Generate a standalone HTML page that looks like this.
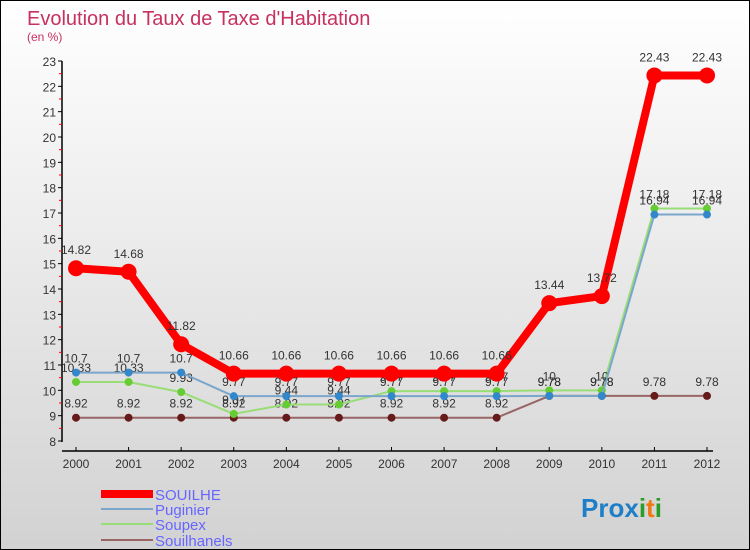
<!DOCTYPE html>
<html><head><meta charset="utf-8"><style>
body{margin:0}
#c{width:750px;height:550px;position:relative;box-sizing:border-box;border:1px solid #000;background:linear-gradient(#fff,#d2d2d2);font-family:"Liberation Sans",sans-serif;overflow:hidden}
svg{position:absolute;left:0;top:0}
</style></head><body>
<div id="c">
<svg id="s" width="750" height="550">
<text x="26" y="24" font-size="20" fill="#c8305f">Evolution du Taux de Taxe d'Habitation</text>
<text x="26" y="40" font-size="12" fill="#c8305f">(en %)</text>
<line x1="61" y1="60" x2="61" y2="441" stroke="#000" stroke-width="1.5"/>
<line x1="61" y1="450" x2="712" y2="450" stroke="#000" stroke-width="1.5"/>
<g id="g"></g>
<g>
<rect x="100" y="489" width="52" height="8" fill="#f00"/>
<line x1="100" y1="508" x2="152" y2="508" stroke="#7aa6cc" stroke-width="2"/>
<line x1="100" y1="523" x2="152" y2="523" stroke="#99dd77" stroke-width="2"/>
<line x1="100" y1="539" x2="152" y2="539" stroke="#996666" stroke-width="2"/>
<text x="154" y="499" font-size="15" fill="#6666ff">SOUILHE</text>
<text x="154" y="514" font-size="15" fill="#6666ff">Puginier</text>
<text x="154" y="529" font-size="15" fill="#6666ff">Soupex</text>
<text x="154" y="545" font-size="15" fill="#6666ff">Souilhanels</text>
</g>
<text x="580" y="516" font-size="26" font-weight="bold"><tspan fill="#1e7fc8">Pro</tspan><tspan fill="#1e7fc8">x</tspan><tspan fill="#2a9d2a">i</tspan><tspan fill="#f07a10">t</tspan><tspan fill="#2a9d2a">i</tspan></text>
</svg>
</div>
<script>
const years=[2000,2001,2002,2003,2004,2005,2006,2007,2008,2009,2010,2011,2012];
const yTicks=[8,9,10,11,12,13,14,15,16,17,18,19,20,21,22,23];
const souilhe=[14.82,14.68,11.82,10.66,10.66,10.66,10.66,10.66,10.66,13.44,13.72,22.43,22.43];
const puginier=[10.7,10.7,10.7,9.77,9.77,9.77,9.77,9.77,9.77,9.78,9.78,16.94,16.94];
const soupex=[10.33,10.33,9.93,9.07,9.44,9.44,9.97,9.97,9.97,10,10,17.18,17.18];
const souilhanels=[8.92,8.92,8.92,8.92,8.92,8.92,8.92,8.92,8.92,9.78,9.78,9.78,9.78];
const X=i=>75+i*(706-75)/(years.length-1);
const Y=v=>440-(v-8)*(380/15);
const g=document.getElementById('g');const NS='http://www.w3.org/2000/svg';
function mk(t,a,p){const e=document.createElementNS(NS,t);for(const k in a)e.setAttribute(k,a[k]);(p||g).appendChild(e);return e;}
yTicks.forEach(v=>{
 const t=mk('line',{x1:57,x2:61,y1:Y(v),y2:Y(v),stroke:'#000'});
 
 
 if(v<23){const m=mk('line',{x1:58,x2:61,y1:Y(v+0.5),y2:Y(v+0.5),stroke:'#f00'});
 
 }
 const l=mk('text',{x:55,y:Y(v)+5,'font-size':12,fill:'#333','text-anchor':'end'});
 
 
 l.textContent=v;
});
years.forEach((yr,i)=>{
 const t=mk('line',{x1:X(i),x2:X(i),y1:446,y2:450,stroke:'#000'});
 
 
 const l=mk('text',{x:X(i),y:467,'font-size':12,fill:'#333','text-anchor':'middle'});
 
 
 l.textContent=yr;
});
function series(name,vals,col,dot,w,r){
 const gg=mk('g',{});
 
 
 const p=mk('polyline',{points:vals.map((v,i)=>X(i)+','+Y(v)).join(' '),fill:'none',stroke:col,'stroke-width':w,'stroke-linejoin':'round'},gg);
 
 
 vals.forEach((v,i)=>{
  const c=mk('circle',{cx:X(i),cy:Y(v),r:r,fill:dot},gg);
  
  
  const t=mk('text',{x:X(i),y:Y(v)-(r+6),'font-size':12,fill:'#333','text-anchor':'middle'},gg);
  
  
  t.textContent=String(v);
 });
}
series('souilhanels',souilhanels,'#996666','#661a1a',2,4);
series('soupex',soupex,'#99dd77','#66cc33',2,4);
series('puginier',puginier,'#7aa6cc','#3388cc',2,4);
series('souilhe',souilhe,'#f00','#f00',8,8);
</script>
</body></html>
